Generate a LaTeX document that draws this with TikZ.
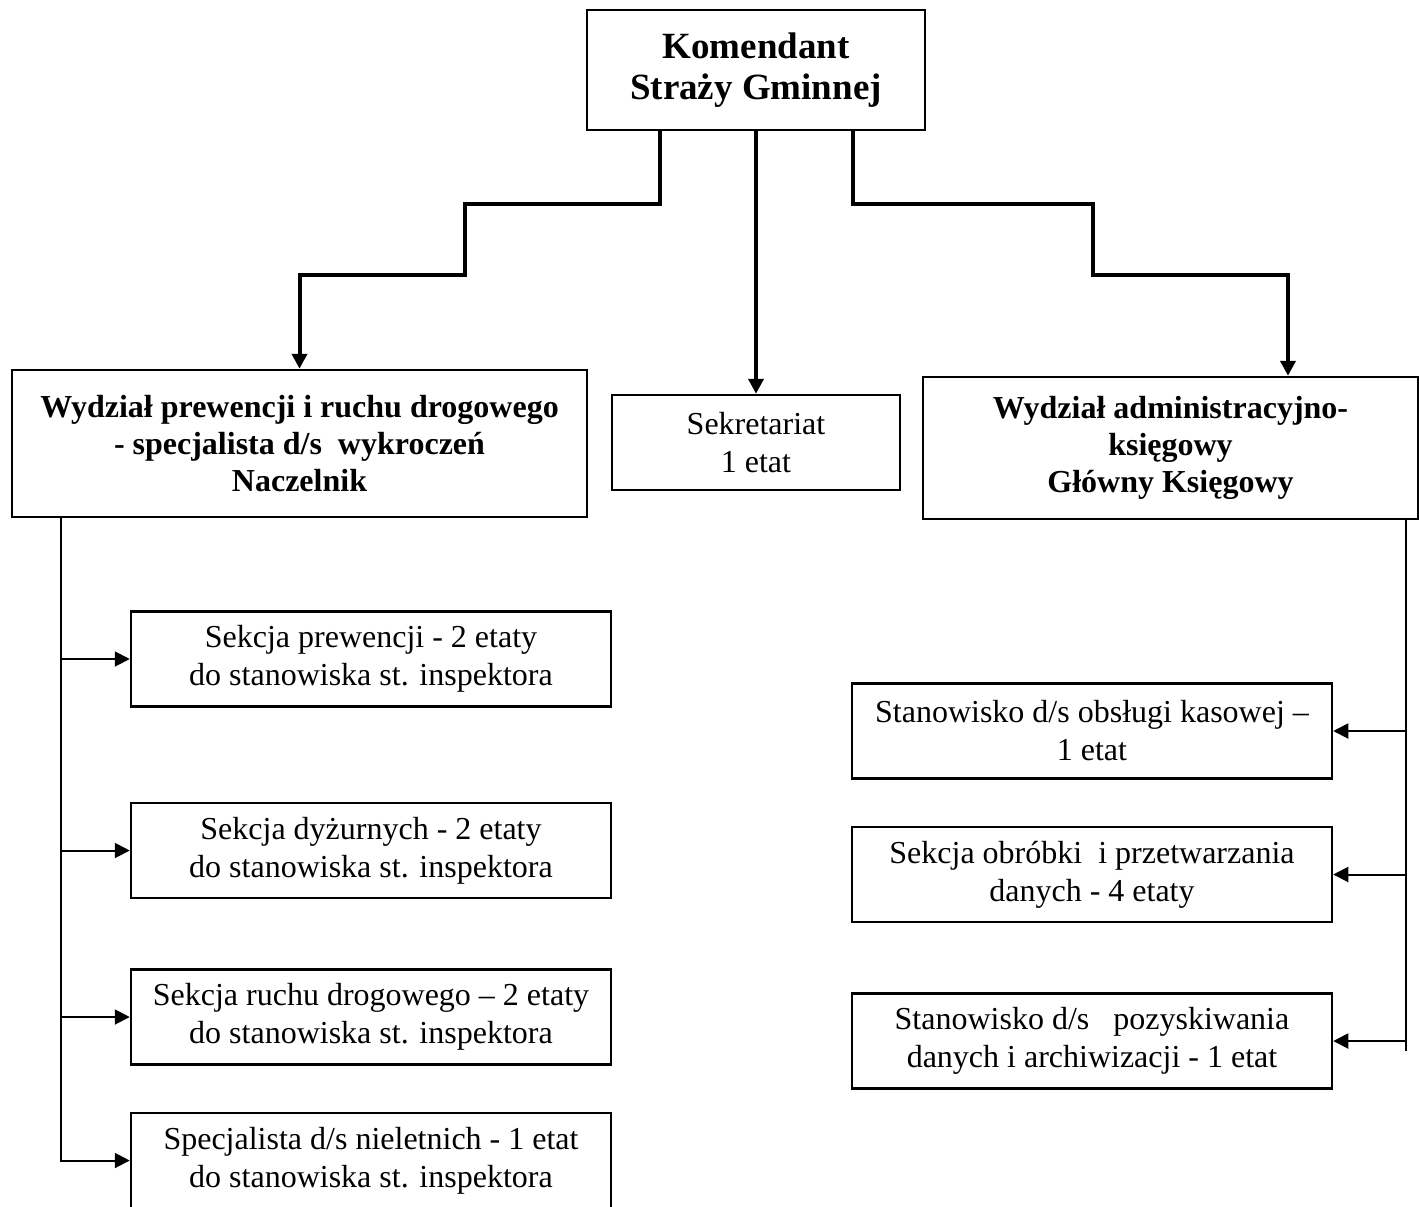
\documentclass[tikz,border=0pt]{standalone}
\usepackage{fontspec}
\setmainfont{Liberation Serif}
\usepackage{tikz}
\usetikzlibrary{arrows.meta}
\tikzset{arrow/.style = {> = {Triangle[length = 7.5pt, width = 7.5pt]}}}
\usetikzlibrary{positioning}

\begin{document}
\begin{tikzpicture}[x = 0.5pt, y = -0.5pt,
	block/.style = {rectangle, draw, line width = 1.25pt, align = center, inner sep = 0pt, font = \fontsize{16}{19}\selectfont},
	head/.style = {block, font = \fontsize{16}{18.5}\selectfont\bfseries},
	section/.style = {block, minimum width = 240pt, minimum height = 47.5pt},
	link/.style = {line width = 2pt, arrow},
	branch/.style = {line width = 1pt, arrow}]
	\useasboundingbox (0, 0) rectangle (1419, 1206);

	%% Level 0
	\node[block, font = \fontsize{18.5}{20.5}\selectfont\bfseries, minimum width = 169pt, minimum height = 60pt] (kom) at (756, 70) {Komendant\\Straży Gminnej};

	%% Level 1
	\node[head, minimum width = 287.5pt, minimum height = 73.5pt] (wprew) at (299.5, 443.5) {Wydział prewencji i ruchu drogowego\\- specjalista d/s~ wykroczeń\\Naczelnik};
	\node[block, minimum width = 144pt, minimum height = 47.5pt] (sekr) at (756, 442.5) {Sekretariat\\1 etat};
	\node[head, minimum width = 247.5pt, minimum height = 71pt] (wadm) at (1170.5, 448) {Wydział administracyjno-\\księgowy\\Główny Księgowy};

	%% Level 2, left
	\node[section] (ps1) at (371, 659) {Sekcja prewencji - 2 etaty\\do stanowiska st. inspektora};
	\node[section, below = 47pt of ps1] (ps2) {Sekcja dyżurnych - 2 etaty\\do stanowiska st. inspektora};
	\node[section, below = 34.5pt of ps2] (ps3) {Sekcja ruchu drogowego – 2 etaty\\do stanowiska st. inspektora};
	\node[section, below = 23pt of ps3] (ps4) {Specjalista d/s nieletnich - 1 etat\\do stanowiska st. inspektora};

	%% Level 2, right
	\node[section] (ra1) at (1092, 731) {Stanowisko d/s obsługi kasowej –\\1 etat};
	\node[section, below = 23pt of ra1] (ra2) {Sekcja obróbki~ i przetwarzania\\danych - 4 etaty};
	\node[section, below = 34.5pt of ra2] (ra3) {Stanowisko d/s~~ pozyskiwania\\danych i archiwizacji - 1 etat};

	%% Arrows...
	% ... 0 to 1
	\draw[link, ->] ([xshift = -48pt]kom.south) -- ++(0, 73) -| (465, 275) -| (wprew.north);
	\draw[link, ->] (kom) -- (sekr);
	\draw[link, ->] ([xshift = 48.5pt]kom.south) -- ++(0, 73) -| (1093, 275) -| ([xshift = 58.75pt]wadm.north);

	% ... 1 to 2
	\coordinate (lspine) at ([xshift = 25pt]wprew.south west);
	\draw[branch, ->] (lspine) |- (ps4.west);
	\foreach \sec in {ps1, ps2, ps3}
		\draw[branch, ->] (lspine |- \sec.west) -- (\sec.west);

	\coordinate (rspine) at ([xshift = -6.5pt]wadm.south east);
	\draw[branch] (rspine) -- ++(0, 531);
	\foreach \sec in {ra1, ra2, ra3}
		\draw[branch, ->] (rspine |- \sec.east) -- (\sec.east);
\end{tikzpicture}
\end{document}
